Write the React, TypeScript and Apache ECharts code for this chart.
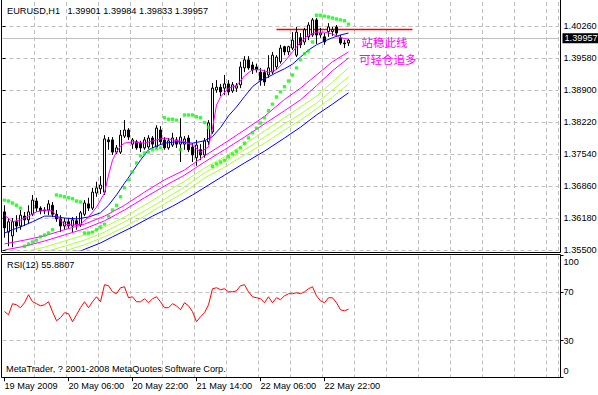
import React, { useEffect, useRef } from 'react';
import * as echarts from 'echarts';

const symbolTitle = 'EURUSD,H1';
const lastQuote = [1.39901, 1.39984, 1.39833, 1.39957]; // open high low close
const rsiTitle = 'RSI(12) 55.8807';
const copyright = 'MetaTrader, ? 2001-2008 MetaQuotes Software Corp.';
const noteLines = ['站稳此线', '可轻仓追多'];

const timeTickLabels = ['19 May 2009', '20 May 06:00', '20 May 22:00', '21 May 14:00', '22 May 06:00', '22 May 22:00'];
const barsPerTimeTick = 16;
const barsPerGridLine = 8;
const totalSlots = 139;

const priceAxisBase = 1.355;
const priceAxisStep = 0.0068;
const priceAxisTop = 1.4077;
const priceTickCount = 8;
const rsiTicks = [0, 30, 70, 100];
const rsiLevels = [30, 70];

const resistanceLevel = 1.402;
const resistanceFrom = 68;
const resistanceTo = 102;

// [open, close, low, high]
const candles = [
  [1.3631, 1.3597, 1.3576, 1.3645], [1.3588, 1.3610, 1.3558, 1.3618], [1.3580, 1.3610, 1.3556, 1.3618],
  [1.3610, 1.3601, 1.3588, 1.3624], [1.3601, 1.3624, 1.3593, 1.3635], [1.3622, 1.3614, 1.3601, 1.3631],
  [1.3614, 1.3631, 1.3605, 1.3645], [1.3626, 1.3656, 1.3622, 1.3667], [1.3654, 1.3639, 1.3631, 1.3661],
  [1.3639, 1.3633, 1.3626, 1.3643], [1.3633, 1.3635, 1.3626, 1.3641], [1.3635, 1.3648, 1.3624, 1.3656],
  [1.3645, 1.3626, 1.3620, 1.3652], [1.3626, 1.3616, 1.3610, 1.3635], [1.3616, 1.3601, 1.3588, 1.3624],
  [1.3601, 1.3610, 1.3593, 1.3618], [1.3610, 1.3601, 1.3595, 1.3618], [1.3601, 1.3614, 1.3588, 1.3620],
  [1.3612, 1.3603, 1.3593, 1.3622], [1.3603, 1.3629, 1.3599, 1.3633], [1.3626, 1.3650, 1.3622, 1.3656],
  [1.3648, 1.3639, 1.3633, 1.3661], [1.3639, 1.3673, 1.3635, 1.3682], [1.3671, 1.3682, 1.3663, 1.3695],
  [1.3680, 1.3688, 1.3669, 1.3707], [1.3673, 1.3786, 1.3667, 1.3794], [1.3784, 1.3780, 1.3763, 1.3790],
  [1.3784, 1.3758, 1.3752, 1.3790], [1.3758, 1.3767, 1.3754, 1.3773], [1.3758, 1.3794, 1.3754, 1.3805],
  [1.3792, 1.3805, 1.3788, 1.3826], [1.3805, 1.3790, 1.3784, 1.3809], [1.3775, 1.3784, 1.3765, 1.3788],
  [1.3780, 1.3767, 1.3763, 1.3784], [1.3777, 1.3767, 1.3758, 1.3782], [1.3767, 1.3784, 1.3763, 1.3790],
  [1.3769, 1.3788, 1.3765, 1.3794], [1.3788, 1.3775, 1.3765, 1.3792], [1.3769, 1.3809, 1.3765, 1.3815],
  [1.3805, 1.3780, 1.3773, 1.3813], [1.3784, 1.3767, 1.3763, 1.3790], [1.3767, 1.3782, 1.3763, 1.3788],
  [1.3773, 1.3788, 1.3769, 1.3799], [1.3784, 1.3775, 1.3767, 1.3790], [1.3775, 1.3790, 1.3737, 1.3830],
  [1.3775, 1.3786, 1.3763, 1.3792], [1.3788, 1.3763, 1.3758, 1.3794], [1.3769, 1.3752, 1.3737, 1.3777],
  [1.3746, 1.3773, 1.3729, 1.3784], [1.3763, 1.3752, 1.3741, 1.3775], [1.3752, 1.3782, 1.3746, 1.3788],
  [1.3780, 1.3820, 1.3773, 1.3826], [1.3801, 1.3894, 1.3797, 1.3905], [1.3890, 1.3896, 1.3884, 1.3911],
  [1.3896, 1.3886, 1.3877, 1.3903], [1.3894, 1.3903, 1.3879, 1.3922], [1.3903, 1.3886, 1.3879, 1.3911],
  [1.3888, 1.3901, 1.3884, 1.3907], [1.3894, 1.3899, 1.3886, 1.3905], [1.3901, 1.3939, 1.3894, 1.3950],
  [1.3937, 1.3954, 1.3928, 1.3962], [1.3954, 1.3937, 1.3933, 1.3962], [1.3943, 1.3933, 1.3924, 1.3950],
  [1.3939, 1.3933, 1.3927, 1.3946], [1.3928, 1.3911, 1.3899, 1.3937], [1.3927, 1.3907, 1.3899, 1.3933],
  [1.3922, 1.3937, 1.3916, 1.3964], [1.3928, 1.3964, 1.3924, 1.3971], [1.3939, 1.3960, 1.3933, 1.3964],
  [1.3950, 1.3979, 1.3946, 1.3986], [1.3982, 1.3971, 1.3964, 1.3984], [1.3971, 1.3982, 1.3964, 1.3984],
  [1.3979, 1.3996, 1.3975, 1.4013], [1.3964, 1.4013, 1.3960, 1.4024], [1.4001, 1.3986, 1.3979, 1.4011],
  [1.3992, 1.4018, 1.3986, 1.4022], [1.4003, 1.4028, 1.3996, 1.4034], [1.4007, 1.4039, 1.4003, 1.4043],
  [1.4039, 1.4007, 1.3988, 1.4043], [1.4007, 1.4011, 1.4001, 1.4022], [1.4003, 1.3992, 1.3986, 1.4011],
  [1.4014, 1.4024, 1.4003, 1.4032], [1.4014, 1.4018, 1.4005, 1.4024], [1.4024, 1.4011, 1.4003, 1.4028],
  [1.4001, 1.3990, 1.3986, 1.4007], [1.3990, 1.3988, 1.3979, 1.3996], [1.39901, 1.39957, 1.39833, 1.39984],
];

const parabolicSar = [
  1.3656, 1.3654, 1.3650, 1.3645, 1.3639, 1.3558, 1.3563, 1.3567, 1.3571, 1.3578,
  1.3582, 1.3586, 1.3593, 1.3667, 1.3665, 1.3663, 1.3661, 1.3659, 1.3654, 1.3652,
  1.3586, 1.3586, 1.3588, 1.3593, 1.3599, 1.3605, 1.3622, 1.3635, 1.3645, 1.3663,
  1.3682, 1.3699, 1.3716, 1.3735, 1.3750, 1.3756, 1.3758, 1.3763, 1.3765, 1.3767,
  1.3831, 1.3828, 1.3828, 1.3826, 1.3763, 1.3837, 1.3837, 1.3837, 1.3833, 1.3831,
  1.3821, 1.3811, 1.3728, 1.3733, 1.3737, 1.3741, 1.3748, 1.3754, 1.3760, 1.3767,
  1.3777, 1.3788, 1.3799, 1.3809, 1.3820, 1.3831, 1.3846, 1.3860, 1.3875, 1.3886,
  1.3897, 1.3909, 1.3922, 1.3937, 1.3954, 1.3967, 1.3973, 1.3992, 1.4049, 1.4049,
  1.4047, 1.4045, 1.4043, 1.4041, 1.4039, 1.4037, 1.4030,
];

// [bar index, value] points
const maFast = [
  [0, 1.3624], [2, 1.3610], [4, 1.3614], [6, 1.3622], [8, 1.3631], [10, 1.3635], [12, 1.3633], [13, 1.3622],
  [15, 1.3605], [17, 1.3603], [19, 1.3605], [21, 1.3620], [23, 1.3641], [25, 1.3671], [26, 1.3709], [27, 1.3741],
  [28, 1.3758], [29, 1.3771], [30, 1.3777], [32, 1.3780], [35, 1.3777], [37, 1.3782], [40, 1.3788], [42, 1.3784],
  [45, 1.3780], [47, 1.3773], [49, 1.3758], [51, 1.3769], [52, 1.3809], [53, 1.3858], [54, 1.3875], [56, 1.3894],
  [58, 1.3899], [60, 1.3920], [62, 1.3933], [64, 1.3933], [66, 1.3928], [68, 1.3933], [70, 1.3950], [72, 1.3971],
  [74, 1.3992], [76, 1.4007], [78, 1.4013], [80, 1.4013], [82, 1.4009], [84, 1.4001], [86, 1.3998],
];
const maMid = [
  [0, 1.3586], [2, 1.3593], [4, 1.3599], [7, 1.3610], [10, 1.3622], [12, 1.3622], [15, 1.3618], [18, 1.3616],
  [21, 1.3620], [24, 1.3629], [26, 1.3645], [28, 1.3667], [30, 1.3692], [32, 1.3716], [34, 1.3741], [36, 1.3763],
  [38, 1.3771], [40, 1.3777], [43, 1.3780], [47, 1.3777], [50, 1.3782], [52, 1.3791], [54, 1.3810], [56, 1.3835],
  [58, 1.3854], [60, 1.3876], [62, 1.3897], [64, 1.3910], [66, 1.3918], [68, 1.3927], [70, 1.3935], [72, 1.3945],
  [74, 1.3960], [76, 1.3975], [78, 1.3986], [80, 1.3994], [82, 1.4001], [84, 1.4007], [86, 1.4011],
];
const maPairA = [
  [0, 1.3563], [5, 1.3571], [10, 1.3580], [15, 1.3593], [20, 1.3605], [25, 1.3622], [30, 1.3645], [35, 1.3673],
  [40, 1.3699], [45, 1.3720], [50, 1.3750], [55, 1.3777], [60, 1.3805], [65, 1.3834], [70, 1.3870], [74, 1.3894],
  [78, 1.3922], [82, 1.3950], [86, 1.3971],
];
const maPairB = [
  [0, 1.3550], [5, 1.3558], [10, 1.3569], [15, 1.3582], [20, 1.3595], [25, 1.3612], [30, 1.3635], [35, 1.3661],
  [40, 1.3686], [45, 1.3709], [50, 1.3737], [55, 1.3763], [60, 1.3790], [65, 1.3818], [70, 1.3846], [74, 1.3869],
  [78, 1.3899], [82, 1.3931], [86, 1.3958],
];
const maGreen1 = [
  [0, 1.3537], [5, 1.3546], [10, 1.3556], [15, 1.3569], [20, 1.3582], [25, 1.3599], [30, 1.3620], [35, 1.3645],
  [40, 1.3671], [45, 1.3696], [50, 1.3724], [55, 1.3748], [60, 1.3775], [65, 1.3803], [70, 1.3831], [74, 1.3854],
  [78, 1.3877], [82, 1.3907], [86, 1.3937],
];
const maGreen2 = [
  [0, 1.3525], [5, 1.3535], [10, 1.3546], [15, 1.3558], [20, 1.3571], [25, 1.3588], [30, 1.3610], [35, 1.3633],
  [40, 1.3658], [45, 1.3684], [50, 1.3714], [55, 1.3737], [60, 1.3763], [65, 1.3790], [70, 1.3818], [74, 1.3839],
  [78, 1.3862], [82, 1.3890], [86, 1.3918],
];
const maGreen3 = [
  [0, 1.3514], [5, 1.3525], [10, 1.3535], [15, 1.3548], [20, 1.3561], [25, 1.3578], [30, 1.3599], [35, 1.3622],
  [40, 1.3648], [45, 1.3673], [50, 1.3703], [55, 1.3726], [60, 1.3752], [65, 1.3777], [70, 1.3805], [74, 1.3826],
  [78, 1.3850], [82, 1.3875], [86, 1.3903],
];
const maSlow = [
  [15, 1.3546], [19, 1.3548], [24, 1.3565], [27, 1.3578], [32, 1.3599], [37, 1.3622], [42, 1.3643], [47, 1.3667],
  [51, 1.3688], [55, 1.3709], [60, 1.3735], [65, 1.3760], [70, 1.3788], [74, 1.3811], [78, 1.3837], [82, 1.3860],
  [86, 1.3884],
];

const rsiValues = [
  54.0, 51.3, 60.4, 59.5, 57.1, 61.2, 67.8, 62.0, 60.4, 58.7,
  59.5, 62.0, 53.8, 46.4, 48.9, 53.0, 52.2, 45.6, 51.3, 57.1,
  62.0, 57.1, 62.0, 66.1, 62.0, 76.0, 75.2, 70.2, 68.6, 73.5,
  74.3, 65.3, 66.1, 62.0, 62.0, 64.5, 61.2, 64.5, 66.1, 62.0,
  57.1, 57.1, 60.4, 58.7, 55.4, 61.2, 58.7, 53.8, 45.6, 49.7,
  53.0, 59.5, 72.7, 73.5, 71.9, 72.7, 70.2, 70.2, 71.0, 75.2,
  76.0, 70.2, 66.1, 65.3, 64.5, 61.2, 66.1, 61.2, 65.3, 63.7,
  66.9, 68.6, 68.6, 69.4, 68.6, 70.2, 72.7, 74.3, 66.9, 62.8,
  61.2, 65.3, 65.3, 61.2, 55.4, 54.6, 55.88,
];

const FONT = '"Liberation Sans", Arial, sans-serif';
const CJK_FONT = '"Noto Sans CJK SC", sans-serif';
const GRID_COLOR = '#c0c0c0';
const GRID_DASH = [4, 3];

export default function App() {
  const ref = useRef<HTMLDivElement>(null);

  useEffect(() => {
    if (!ref.current) return;
    const chart = echarts.init(ref.current, null, { renderer: 'svg' });
    const cats = Array.from({ length: totalSlots }, (_, i) => 'b' + i);
    const pts = (arr: number[][]) => arr.map(([i, v]) => [cats[i], v]);
    const gridSplit = {
      show: true,
      interval: (i: number) => i > 0 && i % barsPerGridLine === 0,
      lineStyle: { color: GRID_COLOR, type: GRID_DASH, width: 1 },
    };
    const timeTickShown = (i: number) => i % barsPerTimeTick === 0 && i / barsPerTimeTick < timeTickLabels.length;
    const lastClose = lastQuote[3];
    const labelFont = { fontFamily: FONT, fontSize: 9.2, color: '#000' };
    const maLine = (data: number[][], color: string, z = 4) => ({
      type: 'line', xAxisIndex: 0, yAxisIndex: 0, data: pts(data), showSymbol: false, symbol: 'none',
      lineStyle: { color, width: 1 }, silent: true, z,
    });
    const gridCommon = { left: 2.5, width: 556, containLabel: false, outerBoundsMode: 'none' };

    const option: any = {
      animation: false,
      backgroundColor: '#ffffff',
      textStyle: { fontFamily: FONT },
      grid: [
        { ...gridCommon, top: 2, height: 248 },
        { ...gridCommon, top: -6, height: 256 },
        { ...gridCommon, top: 255.5, height: 121.75 },
      ],
      xAxis: [
        {
          type: 'category', gridIndex: 0, data: cats, boundaryGap: true,
          axisLine: { show: false }, axisTick: { show: false }, axisLabel: { show: false }, splitLine: gridSplit,
        },
        { type: 'value', gridIndex: 1, show: false, min: 0, max: 1 },
        {
          type: 'category', gridIndex: 2, data: cats, boundaryGap: true,
          axisLine: { show: false },
          axisTick: { show: true, alignWithLabel: true, length: 4, interval: timeTickShown, lineStyle: { color: '#000' } },
          axisLabel: {
            show: true, interval: timeTickShown, align: 'left', margin: 4, ...labelFont,
            formatter: (_v: string, i: number) => timeTickLabels[i / barsPerTimeTick] ?? '',
          },
          splitLine: gridSplit,
        },
      ],
      yAxis: [
        { type: 'value', gridIndex: 0, min: priceAxisBase, max: priceAxisTop, show: false },
        {
          type: 'value', gridIndex: 1, min: 0, max: priceTickCount, interval: 1, position: 'right', offset: 2,
          axisLine: { show: false },
          axisTick: { show: true, length: 3, lineStyle: { color: '#000' } },
          axisLabel: {
            margin: 3, ...labelFont, showMaxLabel: false, lineHeight: 10,
            formatter: (v: number) => (v >= priceTickCount ? '' : (priceAxisBase + v * priceAxisStep).toFixed(5)),
          },
          splitLine: { show: true, lineStyle: { color: GRID_COLOR, type: GRID_DASH, width: 1 } },
        },
        {
          type: 'value', gridIndex: 2, min: 0, max: 100, position: 'right', offset: 2,
          axisLine: { show: false },
          axisTick: { show: true, length: 3, customValues: rsiTicks, lineStyle: { color: '#000' } },
          axisLabel: {
            margin: 3, ...labelFont, customValues: rsiTicks,
            formatter: (v: number) => (v === 100 ? '{hi|100}' : v === 0 ? '{lo|0}' : '{md|' + v + '}'),
            rich: {
              hi: { ...labelFont, padding: [12, 0, 0, 0] },
              lo: { ...labelFont, padding: [0, 0, 12, 0] },
              md: { ...labelFont },
            },
          },
          splitLine: { show: false },
        },
      ],
      series: [
        {
          type: 'candlestick', xAxisIndex: 0, yAxisIndex: 0, data: candles, barWidth: 2, z: 3,
          itemStyle: { color: '#ffffff', color0: '#000000', borderColor: '#000000', borderColor0: '#000000', borderWidth: 1 },
          markLine: {
            silent: true, symbol: ['none', 'none'], z: 1,
            data: [
              {
                yAxis: lastClose,
                lineStyle: { color: GRID_COLOR, type: 'solid', width: 1 },
                label: {
                  show: true, position: 'end', distance: 4, formatter: () => lastClose.toFixed(5),
                  backgroundColor: '#000', color: '#fff', padding: [0, 2, 0, 2], lineHeight: 10,
                  fontFamily: FONT, fontSize: 9.2,
                },
              },
              [
                {
                  coord: [cats[resistanceFrom], resistanceLevel],
                  lineStyle: { color: '#ff0000', type: 'solid', width: 1.3 },
                  label: { show: false },
                },
                { coord: [cats[resistanceTo], resistanceLevel] },
              ],
            ],
          },
        },
        maLine(maSlow, '#0000ff'),
        maLine(maGreen3, '#adff2f'),
        maLine(maGreen2, '#adff2f'),
        maLine(maGreen1, '#adff2f'),
        maLine(maPairB, '#ff00ff'),
        maLine(maPairA, '#ff00ff'),
        maLine(maMid, '#0000ff', 5),
        maLine(maFast, '#ff00ff', 5),
        {
          type: 'scatter', xAxisIndex: 0, yAxisIndex: 0, data: parabolicSar, symbol: 'roundRect', symbolSize: 3.4,
          itemStyle: { color: '#00ff00' }, silent: true, z: 6,
        },
        {
          type: 'line', xAxisIndex: 2, yAxisIndex: 2, data: rsiValues, showSymbol: false, symbol: 'none',
          lineStyle: { color: '#ff0000', width: 1 }, silent: true, z: 4,
          markLine: {
            silent: true, symbol: ['none', 'none'], z: 1,
            lineStyle: { color: GRID_COLOR, type: GRID_DASH, width: 1 },
            label: { show: false },
            data: rsiLevels.map((v) => ({ yAxis: v })),
          },
        },
      ],
      graphic: [
        {
          type: 'polyline', z: 100, silent: true,
          shape: { points: [[1.5, 0], [1.5, 252.5], [560.5, 252.5], [560.5, 0]] },
          style: { stroke: '#000', fill: null, lineWidth: 1 },
        },
        {
          type: 'rect', z: 100, silent: true,
          shape: { x: 1.5, y: 254.5, width: 559, height: 123 },
          style: { stroke: '#000', fill: null, lineWidth: 1 },
        },
        {
          type: 'text', x: 7, y: 10.5, z: 100, silent: true,
          style: { text: symbolTitle, fill: '#000', fontFamily: FONT, fontSize: 9.2, verticalAlign: 'middle', align: 'left' },
        },
        {
          type: 'text', x: 67.5, y: 10.5, z: 100, silent: true,
          style: { text: lastQuote.map((v) => v.toFixed(5)).join(' '), fill: '#000', fontFamily: FONT, fontSize: 9.2, verticalAlign: 'middle', align: 'left' },
        },
        {
          type: 'text', x: 7, y: 265, z: 100, silent: true,
          style: { text: rsiTitle, fill: '#000', fontFamily: FONT, fontSize: 9.2, verticalAlign: 'middle', align: 'left' },
        },
        {
          type: 'text', x: 6, y: 369, z: 100, silent: true,
          style: { text: copyright, fill: '#000', fontFamily: FONT, fontSize: 9.2, verticalAlign: 'middle', align: 'left' },
        },
        {
          type: 'text', x: 361.5, y: 41.7, z: 100, silent: true,
          style: { text: noteLines[0], fill: '#ff00ff', fontFamily: CJK_FONT, fontSize: 11.5, verticalAlign: 'middle', align: 'left' },
        },
        {
          type: 'text', x: 359, y: 59, z: 100, silent: true,
          style: { text: noteLines[1], fill: '#ff00ff', fontFamily: CJK_FONT, fontSize: 11.5, verticalAlign: 'middle', align: 'left' },
        },
      ],
    };

    chart.setOption(option);
    return () => chart.dispose();
  }, []);

  return (
    <div
      ref={ref}
      style={{ position: 'absolute', left: 0, top: 0, width: 598, height: 395, background: '#ffffff' }}
    />
  );
}
